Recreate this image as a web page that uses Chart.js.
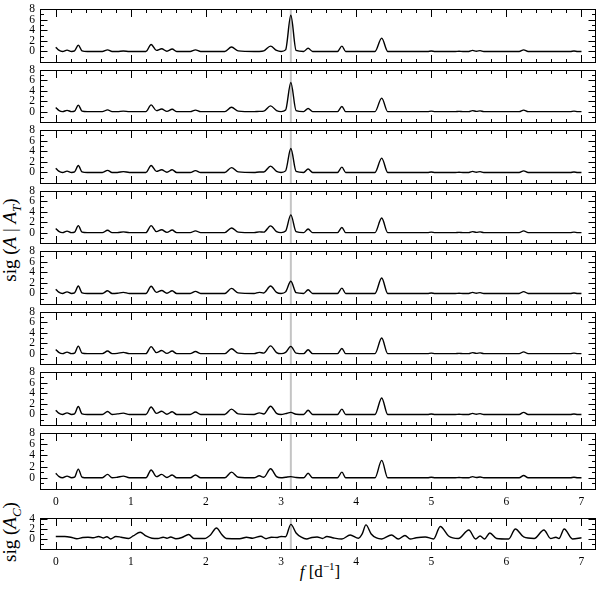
<!DOCTYPE html>
<html>
<head>
<meta charset="utf-8">
<script src="https://cdn.jsdelivr.net/npm/chart.js@4.4.1/dist/chart.umd.min.js"></script>
<style>
  body { margin: 0; background: #fff; }
  #wrap { position: relative; width: 599px; height: 594px; overflow: hidden; font-family: "Liberation Serif", "Times New Roman", serif; color: #000; }
  #wrap canvas { position: absolute; left: 0; }
  .ytitle { position: absolute; white-space: nowrap; font-size: 19px; transform: translate(-50%, -50%) rotate(-90deg); }
  .ytitle sub { font-size: 13px; }
  #xtitle { position: absolute; left: 320px; top: 571px; transform: translate(-50%, -50%); font-size: 17px; white-space: nowrap; }
  #xtitle sup { font-size: 11px; }
</style>
</head>
<body>
<div id="wrap">
  <div class="ytitle" style="left:12px; top:240px">sig (<i>A</i> | <i>A</i><sub><i>T</i></sub>)</div>
  <div class="ytitle" style="left:12px; top:532px">sig (<i>A</i><sub><i>C</i></sub>)</div>
  <div id="xtitle"><i>f</i> [d<sup>−1</sup>]</div>
</div>
<script>
// frequency grid shared by the 8 upper panels
const freq = [
  0, 0.04, 0.09, 0.15, 0.21, 0.25, 0.3, 0.35,
  0.42, 0.62, 0.69, 0.75, 0.82, 0.9, 0.98, 1.2,
  1.27, 1.34, 1.41, 1.48, 1.55, 1.61, 1.79, 1.86,
  1.93, 2.25, 2.34, 2.43, 2.64, 2.71, 2.77, 2.86,
  2.94, 3.0, 3.06, 3.13, 3.2, 3.3, 3.36, 3.42,
  3.75, 3.81, 3.86, 4.25, 4.34, 4.42, 4.95, 5.0,
  5.05, 5.32, 5.37, 5.42, 5.5, 5.55, 5.6, 5.65,
  5.7, 6.17, 6.23, 6.29, 6.85, 6.9, 6.95, 7.0
];

const sigAT1 = [
  0.8, 0.25, 0, 0.25, 0, 0.1, 1.2, 0.1,
  0, 0, 0.3, 0, 0, 0.1, 0, 0,
  1.3, 0.2, 0.5, 0.05, 0.45, 0, 0, 0.3,
  0, 0, 0.85, 0.1, 0, 0, 0.1, 1.0,
  0.2, 0, 0.3, 6.8, 0.2, 0, 0.6, 0,
  0, 1.0, 0, 0, 2.5, 0, 0, 0.1,
  0, 0, 0.05, 0, 0, 0.2, 0.05, 0.15,
  0, 0, 0.3, 0, 0, 0.1, 0, 0
];
const sigAT2 = [
  0.8, 0.25, 0, 0.25, 0, 0.1, 1.25, 0.1,
  0, 0, 0.35, 0, 0, 0.1, 0, 0,
  1.3, 0.2, 0.5, 0.05, 0.45, 0, 0, 0.3,
  0, 0, 0.85, 0.1, 0, 0.05, 0.1, 1.1,
  0.2, 0, 0.3, 5.6, 0.2, 0, 0.6, 0,
  0, 1.0, 0, 0, 2.6, 0, 0, 0.1,
  0, 0, 0.05, 0, 0, 0.2, 0.05, 0.15,
  0, 0, 0.3, 0, 0, 0.1, 0, 0
];
const sigAT3 = [
  0.8, 0.25, 0, 0.25, 0, 0.1, 1.3, 0.1,
  0, 0, 0.4, 0, 0, 0.15, 0, 0,
  1.3, 0.2, 0.5, 0.05, 0.5, 0, 0, 0.35,
  0, 0, 0.9, 0.1, 0, 0.1, 0.1, 1.2,
  0.2, 0, 0.3, 4.5, 0.2, 0, 0.65, 0,
  0, 1.0, 0, 0, 2.7, 0, 0, 0.1,
  0, 0, 0.05, 0, 0, 0.2, 0.05, 0.15,
  0, 0, 0.3, 0, 0, 0.1, 0, 0
];
const sigAT4 = [
  0.8, 0.25, 0, 0.3, 0, 0.1, 1.35, 0.1,
  0, 0, 0.45, 0, 0, 0.15, 0, 0,
  1.35, 0.2, 0.55, 0.05, 0.5, 0, 0, 0.35,
  0, 0, 0.9, 0.1, 0, 0.15, 0.1, 1.3,
  0.2, 0, 0.3, 3.4, 0.2, 0, 0.7, 0,
  0, 1.0, 0, 0, 2.8, 0, 0, 0.1,
  0, 0, 0.05, 0, 0, 0.2, 0.05, 0.15,
  0, 0, 0.35, 0, 0, 0.1, 0, 0
];
const sigAT5 = [
  0.8, 0.25, 0, 0.3, 0, 0.1, 1.4, 0.1,
  0, 0, 0.5, 0, 0.05, 0.2, 0, 0,
  1.35, 0.2, 0.55, 0.05, 0.5, 0, 0, 0.4,
  0, 0, 0.95, 0.1, 0, 0.2, 0.1, 1.4,
  0.2, 0, 0.3, 2.3, 0.15, 0, 0.7, 0,
  0, 1.0, 0, 0, 2.9, 0, 0, 0.1,
  0, 0, 0.05, 0, 0, 0.2, 0.05, 0.15,
  0, 0, 0.35, 0, 0, 0.1, 0, 0
];
const sigAT6 = [
  0.8, 0.25, 0, 0.3, 0, 0.1, 1.45, 0.1,
  0, 0, 0.5, 0, 0.05, 0.25, 0, 0,
  1.35, 0.2, 0.6, 0.05, 0.5, 0, 0, 0.4,
  0, 0, 0.95, 0.1, 0, 0.25, 0.1, 1.5,
  0.2, 0, 0.25, 1.4, 0.1, 0, 0.75, 0,
  0, 1.0, 0, 0, 3.0, 0, 0, 0.1,
  0, 0, 0.05, 0, 0, 0.2, 0.05, 0.15,
  0, 0, 0.35, 0, 0, 0.1, 0, 0
];
const sigAT7 = [
  0.8, 0.25, 0, 0.3, 0, 0.1, 1.5, 0.1,
  0, 0, 0.55, 0, 0.1, 0.25, 0, 0,
  1.4, 0.2, 0.6, 0.05, 0.5, 0, 0, 0.45,
  0, 0, 1.0, 0.1, 0, 0.3, 0.1, 1.55,
  0.2, 0, 0.15, 0.4, 0.05, 0, 0.8, 0,
  0, 1.0, 0, 0, 3.1, 0, 0, 0.1,
  0, 0, 0.05, 0, 0, 0.2, 0.05, 0.15,
  0, 0, 0.4, 0, 0, 0.1, 0, 0
];
const sigAT8 = [
  0.8, 0.25, 0, 0.3, 0, 0.1, 1.55, 0.1,
  0, 0, 0.6, 0, 0.1, 0.3, 0, 0,
  1.4, 0.2, 0.6, 0.05, 0.5, 0, 0, 0.5,
  0, 0, 1.0, 0.1, 0, 0.35, 0.1, 1.6,
  0.2, 0, 0.1, 0.2, 0.05, 0, 0.8, 0,
  0, 1.0, 0, 0, 3.1, 0, 0, 0.1,
  0, 0, 0.05, 0, 0, 0.2, 0.05, 0.15,
  0, 0, 0.4, 0, 0, 0.1, 0, 0
];

// bottom panel, sig(A_C)
const acFreq = [
  0, 0.12, 0.2, 0.28, 0.36, 0.43, 0.5, 0.57, 0.63, 0.68, 0.73, 0.8, 0.87, 0.97,
  1.03, 1.125, 1.2, 1.28, 1.36, 1.43, 1.48, 1.53, 1.6, 1.68, 1.77, 1.84, 1.98,
  2.06, 2.14, 2.21, 2.27, 2.45, 2.54, 2.62, 2.73, 2.8, 2.87, 2.95, 3.0, 3.06,
  3.13, 3.2, 3.27, 3.34, 3.41, 3.48, 3.55, 3.61, 3.7, 3.81, 3.92, 4.03, 4.08,
  4.13, 4.2, 4.27, 4.34, 4.47, 4.56, 4.65, 4.72, 4.8, 4.92, 5.03, 5.12, 5.23,
  5.36, 5.5, 5.59, 5.65, 5.71, 5.78, 5.87, 6.03, 6.12, 6.23, 6.37, 6.5, 6.59,
  6.66, 6.7, 6.77, 6.88, 7.0
];
const acSig = [
  0.5, 0.5, 0.35, 0.05, 0.3, 0.35, 0.25, 0.5, 0.2, 0.45, 0.0, 0.5, 0.35, 0.1,
  0.6, 1.35, 0.6, 0.15, 0.1, 0.35, 0.15, 0.4, 0.05, 0.3, 0.9, 0.1, 0.1,
  0.8, 2.2, 0.9, 0.1, 0.05, 0.35, 0.15, 0.55, 0.05, 0.35, 0.3, 0.5, 0.45,
  2.9, 1.2, 0.35, 0.0, 0.3, 0.4, 0.1, 0.5, 0.2, 0.0, 0.8, 0.15, 1.0,
  2.8, 1.0, 0.2, 0.0, 0.8, 0.0, 0.7, 0.0, 0.25, 0.4, 0.0, 2.5, 0.6,
  0.1, 1.8, 0.0, 0.6, 0.0, 1.2, 0.1, 0.0, 2.0, 0.4, 0.1, 1.8, 0.1,
  0.35, 0.1, 2.0, 0.0, 0.25
];

const markerFreq = 3.13;
const xTicks = [0, 1, 2, 3, 4, 5, 6, 7];
const yTicksTop = [0, 2, 4, 6, 8];
const yTicksBottom = [0, 2, 4];
const xRange = [-0.21, 7.18];
const yRangeTop = [-2, 8];
const yRangeBottom = [-2, 4.2];

const $wrap = document.getElementById("wrap");
const tickFont = { family: "'Liberation Serif', 'Times New Roman', serif", size: 11.5 };

// frame + inward ticks on all four sides
const frameTicks = {
  id: "frameTicks",
  afterDatasetsDraw(chart) {
    const { ctx, chartArea: a } = chart;
    const xs = chart.scales.x, ys = chart.scales.y;
    const L = Math.round(a.left) + 0.5, R = Math.round(a.right) + 0.5;
    const T = Math.round(a.top) + 0.5, B = Math.round(a.bottom) + 0.5;
    ctx.save();
    ctx.strokeStyle = "#000";
    ctx.lineWidth = 1;
    ctx.beginPath();
    for (let k = 0; k <= 35; k++) {
      const v = k * 0.2;
      const px = Math.round(xs.getPixelForValue(v)) + 0.5;
      const len = k % 5 === 0 ? 7.5 : 3.5;
      ctx.moveTo(px, B); ctx.lineTo(px, B - len);
      ctx.moveTo(px, T); ctx.lineTo(px, T + len);
    }
    for (let v = Math.ceil(ys.min); v <= ys.max; v++) {
      const py = Math.round(ys.getPixelForValue(v)) + 0.5;
      const len = v % 2 === 0 ? 7 : 3.5;
      ctx.moveTo(L, py); ctx.lineTo(L + len, py);
      ctx.moveTo(R, py); ctx.lineTo(R - len, py);
    }
    ctx.stroke();
    ctx.strokeRect(L, T, R - L, B - T);
    ctx.restore();
  }
};

function makePanel(xVals, yVals, top, h, yRange, yTicks, showX) {
  const padT = 8, axisH = 22, padB = 8;
  const canvas = document.createElement("canvas");
  const ch = h + padT + (showX ? axisH : padB);
  canvas.width = 599;
  canvas.height = ch;
  canvas.style.width = "599px";
  canvas.style.height = ch + "px";
  canvas.style.top = (top - padT) + "px";
  $wrap.appendChild(canvas);

  new Chart(canvas, {
    type: "line",
    data: {
      datasets: [
        {
          data: xVals.map((f, i) => ({ x: f, y: yVals[i] })),
          borderColor: "#000",
          borderWidth: 1.4,
          pointRadius: 0,
          cubicInterpolationMode: "monotone",
          order: 1,
        },
        {
          data: [{ x: markerFreq, y: yRange[0] }, { x: markerFreq, y: yRange[1] }],
          borderColor: "#c4c4c4",
          borderWidth: 2,
          pointRadius: 0,
          order: 2,
        },
      ],
    },
    options: {
      responsive: false,
      animation: false,
      events: [],
      layout: { padding: { top: padT, bottom: showX ? 0 : padB, left: 0, right: 4 } },
      plugins: { legend: { display: false }, tooltip: { enabled: false } },
      scales: {
        x: {
          type: "linear",
          min: xRange[0],
          max: xRange[1],
          display: showX,
          grid: { display: false, drawTicks: false },
          border: { display: false },
          afterBuildTicks: (s) => { s.ticks = xTicks.map((v) => ({ value: v })); },
          afterFit: (s) => { s.height = showX ? axisH : 0; },
          ticks: { color: "#000", font: tickFont, padding: 6, autoSkip: false, maxRotation: 0 },
        },
        y: {
          type: "linear",
          min: yRange[0],
          max: yRange[1],
          grid: { display: false, drawTicks: false },
          border: { display: false },
          afterBuildTicks: (s) => { s.ticks = yTicks.map((v) => ({ value: v })); },
          afterFit: (s) => { s.width = 40; },
          ticks: { color: "#000", font: tickFont, padding: 5, autoSkip: false },
        },
      },
    },
    plugins: [frameTicks],
  });
}

const upper = [sigAT1, sigAT2, sigAT3, sigAT4, sigAT5, sigAT6, sigAT7, sigAT8];
upper.forEach((vals, i) => {
  const top = Math.round(5 + i * 60.5);
  const bottom = Math.round(5 + (i + 1) * 60.5);
  makePanel(freq, vals, top, bottom - top, yRangeTop, yTicksTop, i === upper.length - 1);
});
makePanel(acFreq, acSig, 514, 35, yRangeBottom, yTicksBottom, true);
</script>
</body>
</html>
